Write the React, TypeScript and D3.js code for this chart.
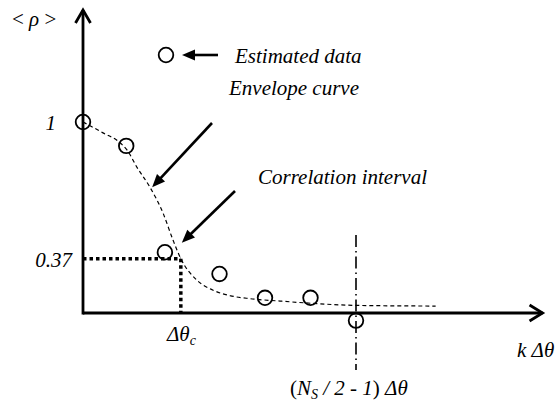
import React from "react";
import * as d3 from "d3";

// Estimated correlation samples <rho> at lag index k
const sampleLags: number[] = [0, 0.95, 1.8, 3, 4, 5, 6];
const sampleRho: number[] = [1, 0.89, 0.4, 0.3, 0.19, 0.19, 0.085];

// Envelope curve through the estimated samples
const envelopeLags: number[] = [0, 0.44, 0.81, 0.97, 1.19, 1.47, 1.76, 1.98, 2.15, 2.51, 2.86, 3.23, 3.67, 4.33, 5.0, 6.0, 7.75];
const envelopeRho: number[] = [1, 0.95, 0.905, 0.87, 0.79, 0.7, 0.58, 0.455, 0.37, 0.27, 0.225, 0.2, 0.186, 0.175, 0.165, 0.155, 0.152];

// Correlation interval: where the envelope drops to 1/e
const corrLevel = 0.37;
const corrLag = 2.15;
// Half-window lag (N_S/2 - 1)
const halfWindowLag = 6;

const yTickValues: number[] = [1, corrLevel];
const yTickLabels: string[] = ["1", "0.37"];

const W = 557;
const H = 401;

const FONT = "Liberation Serif";

export default function App() {
  const x = d3.scaleLinear().domain([0, 10]).range([83, 538]);
  const y = d3.scaleLinear().domain([0.12, 1]).range([313, 122]);

  const x0 = x(0);
  const y0 = y(0.12);
  const xEnd = x(10.1);
  const yTop = y(1.516);

  const envelopePts: [number, number][] = envelopeLags.map((k, i) => [x(k), y(envelopeRho[i])]);
  const envPath = d3.line().curve(d3.curveMonotoneX)(envelopePts) || "";

  const arrowHead = (tx: number, ty: number, fx: number, fy: number, len = 13, half = 5.5) => {
    const ang = Math.atan2(ty - fy, tx - fx);
    const bx = tx - len * Math.cos(ang);
    const by = ty - len * Math.sin(ang);
    const px = -Math.sin(ang) * half;
    const py = Math.cos(ang) * half;
    return `M${tx},${ty}L${bx + px},${by + py}L${bx - px},${by - py}Z`;
  };

  const pointer = (fx: number, fy: number, tx: number, ty: number, key: string) => {
    const ang = Math.atan2(ty - fy, tx - fx);
    const ex = tx - 10 * Math.cos(ang);
    const ey = ty - 10 * Math.sin(ang);
    return (
      <g key={key}>
        <line x1={fx} y1={fy} x2={ex} y2={ey} stroke="#000" strokeWidth={2.6} />
        <path d={arrowHead(tx, ty, fx, fy)} fill="#000" />
      </g>
    );
  };

  // pointer targets derived from the curve
  const envTipX = x(1.52);
  const envTipY = y(0.69) - 2;
  const corrTipX = x(corrLag) + 1;
  const corrTipY = y(corrLevel) - 16;

  const legendX = 166;
  const legendY = 55;

  const ts = { fontFamily: FONT };

  return (
    <svg
      width={W}
      height={H}
      viewBox={`0 0 ${W} ${H}`}
      style={{ position: "absolute", left: 0, top: 0, background: "#fff" }}
    >
      <rect x={0} y={0} width={W} height={H} fill="#fff" />

      {/* envelope curve */}
      <path d={envPath} fill="none" stroke="#000" strokeWidth={1.2} strokeDasharray="4,3" />

      {/* correlation interval guides */}
      <line x1={x0} y1={y(corrLevel)} x2={x(corrLag)} y2={y(corrLevel)} stroke="#000" strokeWidth={3.5} strokeDasharray="3.5,3" />
      <line x1={x(corrLag)} y1={y(corrLevel)} x2={x(corrLag)} y2={y0} stroke="#000" strokeWidth={3.5} strokeDasharray="3.5,3" />

      {/* half-window marker */}
      <line
        x1={x(halfWindowLag)}
        y1={235}
        x2={x(halfWindowLag)}
        y2={370}
        stroke="#000"
        strokeWidth={1.6}
        strokeDasharray="12,4,1.5,4"
      />

      {/* axes */}
      <line x1={x0} y1={y0} x2={xEnd} y2={y0} stroke="#000" strokeWidth={2.8} />
      <line x1={x0} y1={y0 + 1.4} x2={x0} y2={yTop} stroke="#000" strokeWidth={2.8} />
      <path
        d={`M${x0 - 7.5},${yTop + 13}L${x0},${yTop}L${x0 + 7.5},${yTop + 13}`}
        fill="none"
        stroke="#000"
        strokeWidth={2.8}
      />
      <path
        d={`M${xEnd - 13},${y0 - 8}L${xEnd},${y0}L${xEnd - 13},${y0 + 8}`}
        fill="none"
        stroke="#000"
        strokeWidth={2.8}
      />

      {/* estimated samples */}
      {sampleLags.map((k, i) => (
        <circle key={i} cx={x(k)} cy={y(sampleRho[i])} r={7.3} fill="none" stroke="#000" strokeWidth={1.8} />
      ))}

      {/* legend */}
      <circle cx={legendX} cy={legendY} r={7.3} fill="none" stroke="#000" strokeWidth={1.8} />
      {pointer(legendX + 52, legendY, legendX + 16, legendY, "leg")}
      <text style={ts} x={235} y={63} fontSize={21} fontStyle="italic">Estimated data</text>

      {/* annotations */}
      {pointer(212, 123, envTipX, envTipY, "env")}
      <text style={ts} x={229} y={95} fontSize={21} fontStyle="italic">Envelope curve</text>
      {pointer(235, 191, corrTipX, corrTipY, "corr")}
      <text style={ts} x={258} y={184} fontSize={21} fontStyle="italic">Correlation interval</text>

      {/* axis labels */}
      <text style={ts} x={12} y={26} fontSize={21}>
        {"< "}
        <tspan fontStyle="italic">ρ</tspan>
        {" >"}
      </text>
      {yTickValues.map((v, i) => (
        <text style={ts} key={i} x={i === 0 ? 56 : 72} y={y(v) + 8} fontSize={21} fontStyle="italic" textAnchor="end">
          {yTickLabels[i]}
        </text>
      ))}
      <text style={ts} x={167} y={341} fontSize={21} fontStyle="italic">
        Δθ<tspan fontSize={14} dy={4}>c</tspan>
      </text>
      <text style={ts} x={517} y={357} fontSize={21} fontStyle="italic">k Δθ</text>
      <text style={ts} x={290} y={395} fontSize={21}>
        (<tspan fontStyle="italic">N</tspan>
        <tspan fontStyle="italic" fontSize={14} dy={4}>S</tspan>
        <tspan dy={-4} fontStyle="italic">{" / 2 - 1"}</tspan>) <tspan fontStyle="italic">Δθ</tspan>
      </text>
    </svg>
  );
}
